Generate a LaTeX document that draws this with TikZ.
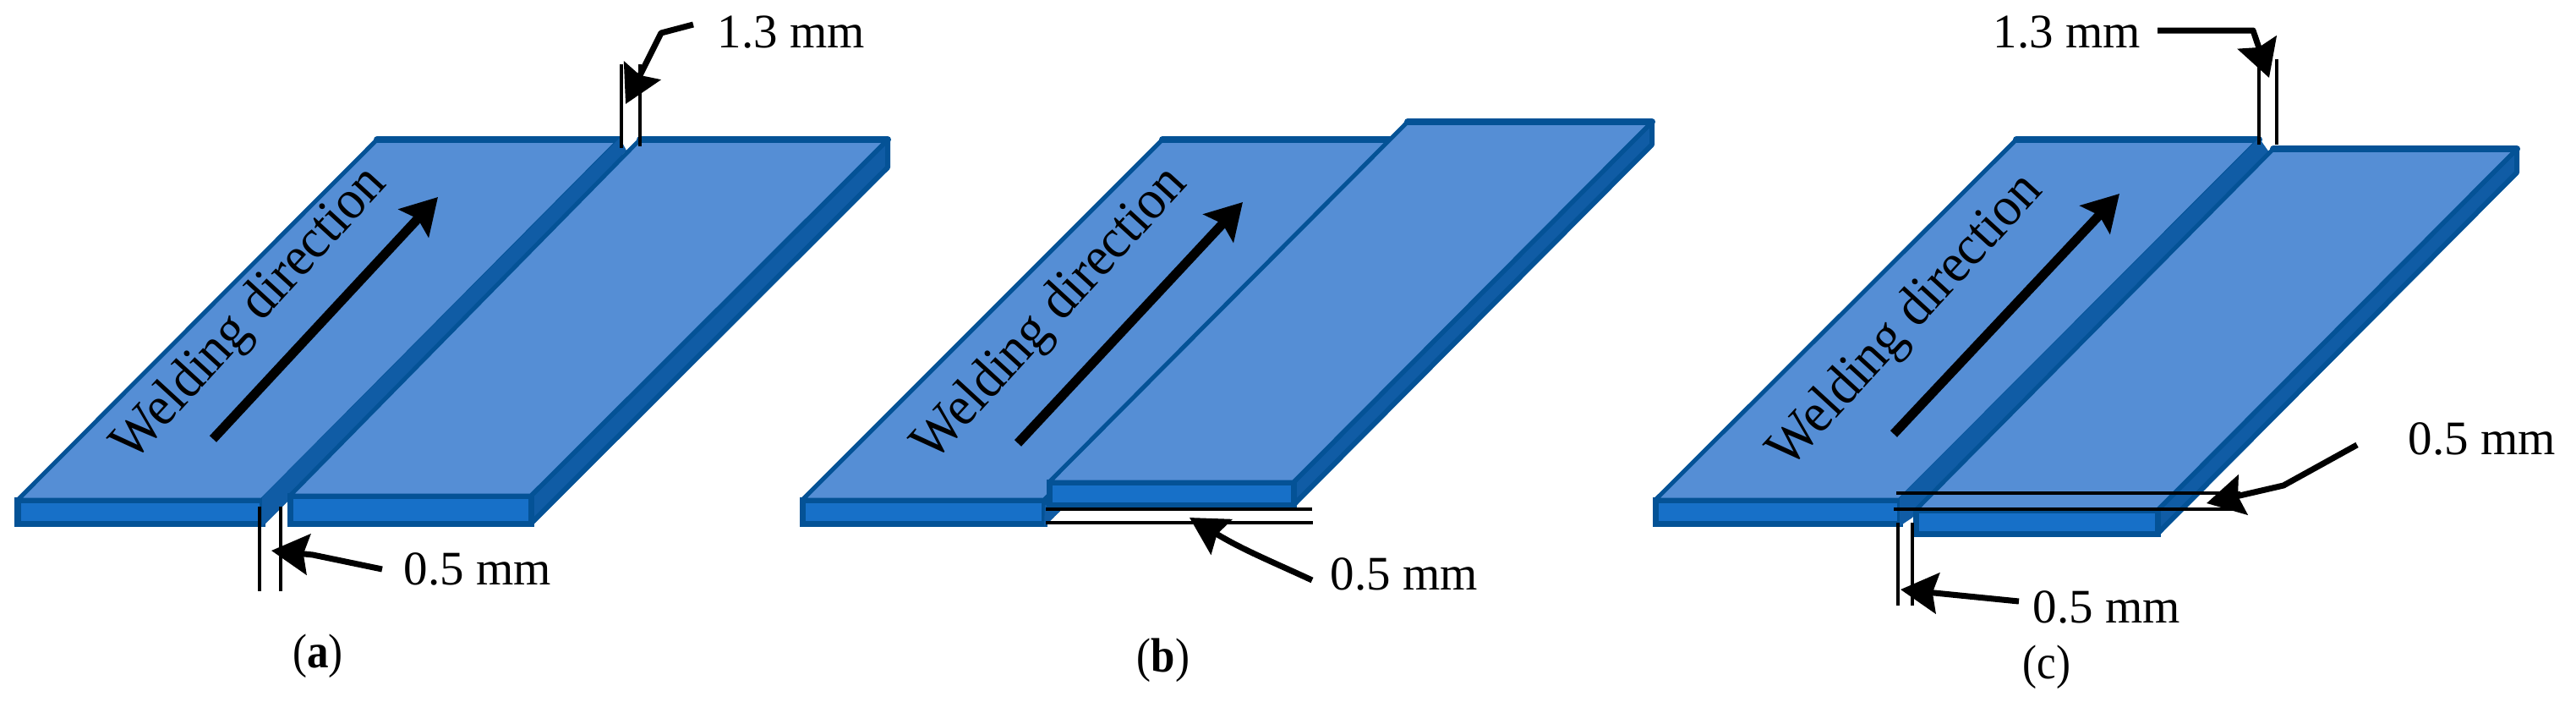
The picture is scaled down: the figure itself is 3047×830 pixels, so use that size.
\documentclass[tikz,border=0pt]{standalone}
\usepackage{fontspec}
\setmainfont{Liberation Serif}
\usetikzlibrary{arrows.meta,calc}
\definecolor{topblue}{RGB}{85,142,213}
\definecolor{frontblue}{RGB}{23,112,200}
\definecolor{sideblue}{RGB}{16,92,165}
\definecolor{edgeblue}{RGB}{4,82,150}
\tikzset{
  x=0.01cm,y=-0.01cm,
  topf/.style={fill=topblue,draw=edgeblue,line width=0.05cm,line join=bevel},
  topedge/.style={draw=edgeblue,line width=0.08cm,line cap=round},
  frontf/.style={fill=frontblue,draw=edgeblue,line width=0.07cm,line join=miter},
  sidef/.style={fill=sideblue,draw=edgeblue,line width=0.06cm,line join=bevel},
  bandf/.style={fill=sideblue,draw=none},
  dimline/.style={draw=black,line width=0.045cm},
  callout/.style={draw=black,line width=0.07cm,line join=round,
    -{Stealth[length=0.44cm,width=0.48cm,inset=0.06cm]}},
  weldarrow/.style={draw=black,line width=0.11cm,
    -{Stealth[length=0.42cm,width=0.48cm,inset=0.07cm]}},
  dimtext/.style={anchor=base west,inner sep=0pt,font=\fontsize{16.2}{18}\selectfont},
  weldtext/.style={anchor=base west,inner sep=0pt,rotate=47.5,font=\fontsize{17.7}{20}\selectfont},
  captext/.style={anchor=base,inner sep=0pt,font=\fontsize{14.5}{17}\selectfont},
}
\newcommand{\talltext}[2]{\scalebox{1}[#1]{#2}}
\newcommand{\plate}[5]{%
  \path[sidef] #4 -- #3 -- ($#3+(0,#5)$) -- ($#4+(0,#5)$) -- cycle;
  \path[frontf] #1 -- #4 -- ($#4+(0,#5)$) -- ($#1+(0,#5)$) -- cycle;
  \path[topf] #1 -- #2 -- #3 -- #4 -- cycle;
  \draw[topedge] #2 -- #3;
}
\begin{document}
\begin{tikzpicture}
\useasboundingbox (0,0) rectangle (3047,830);
% ---------- panel (a)
\plate{(21,591)}{(446,165)}{(733,165)}{(310,591)}{28}
\path[bandf] (310,622) -- (310,588) -- (733,163) -- (741,178) -- (342,590) -- cycle;
\plate{(343,586)}{(757,165)}{(1050,165)}{(628,586)}{33}
\coordinate (a13t) at (735,76); \coordinate (a13b) at (735,175);
\coordinate (a13u) at (757,76); \coordinate (a13v) at (757,173);
\draw[dimline] (a13t) -- (a13b); \draw[dimline] (a13u) -- (a13v);
\coordinate (a05t) at (307,599); \coordinate (a05b) at (307,699);
\coordinate (a05u) at (332,599); \coordinate (a05v) at (332,699);
\draw[dimline] (a05t) -- (a05b); \draw[dimline] (a05u) -- (a05v);
\node[dimtext] (alab13) at (848,56) {1.3 mm};
\node[dimtext] (alab05) at (477,691) {0.5 mm};
\node[captext] (acap) at (376,789) {\talltext{1.12}{(\textbf{a})}};
\node[weldtext] (aweld) at (157,548) {\talltext{1.06}{Welding direction}};
\coordinate (aw0) at (252,519); \coordinate (aw1) at (518,233);
\draw[weldarrow] (aw0) -- (aw1);
\coordinate (ac1) at (820,29); \coordinate (ac2) at (782,39); \coordinate (ac3) at (740,123);
\draw[callout] (ac1) -- (ac2) -- (ac3);
\coordinate (ad1) at (452,673); \coordinate (ad2) at (370,656); \coordinate (ad3) at (321,651);
\draw[callout] (ad1) -- (ad2) -- (ad3);
% ---------- panel (b)
\plate{(949,591)}{(1375,165)}{(1650,165)}{(1235,591)}{28}
\path[bandf] (1235,622) -- (1262,597) -- (1236,597) -- cycle;
\plate{(1241,570)}{(1665,144)}{(1954,144)}{(1530,570)}{27}
\coordinate (b1a) at (1237,602); \coordinate (b1b) at (1552,602);
\coordinate (b2a) at (1237,618); \coordinate (b2b) at (1553,618);
\draw[dimline] (b1a) -- (b1b); \draw[dimline] (b2a) -- (b2b);
\node[dimtext] (blab05) at (1573,697) {0.5 mm};
\node[captext] (bcap) at (1376,794) {\talltext{1.12}{(\textbf{b})}};
\node[weldtext] (bweld) at (1104,548) {\talltext{1.06}{Welding direction}};
\coordinate (bw0) at (1204,524); \coordinate (bw1) at (1470,239);
\draw[weldarrow] (bw0) -- (bw1);
\coordinate (bd1) at (1552,686); \coordinate (bd3) at (1407,612);
\draw[callout] (bd1) .. controls (1500,662) and (1470,650) .. (bd3);
% ---------- panel (c)
\plate{(1958,591)}{(2385,165)}{(2672,165)}{(2247,591)}{28}
\path[bandf] (2247,622) -- (2247,588) -- (2672,163) -- (2684,180) -- (2272,600) -- (2262,612) -- cycle;
\plate{(2266,603)}{(2689,176)}{(2977,176)}{(2552,603)}{28}
\coordinate (c1a) at (2672,70); \coordinate (c1b) at (2672,171);
\coordinate (c2a) at (2693,70); \coordinate (c2b) at (2693,171);
\draw[dimline] (c1a) -- (c1b); \draw[dimline] (c2a) -- (c2b);
\coordinate (c3a) at (2245,618); \coordinate (c3b) at (2245,716);
\coordinate (c4a) at (2262,618); \coordinate (c4b) at (2262,716);
\draw[dimline] (c3a) -- (c3b); \draw[dimline] (c4a) -- (c4b);
\coordinate (c5a) at (2243,583); \coordinate (c5b) at (2650,583);
\coordinate (c6a) at (2240,602); \coordinate (c6b) at (2650,602);
\draw[dimline] (c5a) -- (c5b); \draw[dimline] (c6a) -- (c6b);
\node[dimtext] (clab13) at (2357,56) {1.3 mm};
\node[dimtext] (clab05r) at (2848,537) {0.5 mm};
\node[dimtext] (clab05b) at (2404,736) {0.5 mm};
\node[captext] (ccap) at (2421,802) {\talltext{1.12}{(c)}};
\node[weldtext] (cweld) at (2116,556) {\talltext{1.06}{Welding direction}};
\coordinate (cw0) at (2240,513); \coordinate (cw1) at (2507,229);
\draw[weldarrow] (cw0) -- (cw1);
\coordinate (cc1) at (2552,36); \coordinate (cc2) at (2665,36); \coordinate (cc3) at (2684,92);
\draw[callout] (cc1) -- (cc2) -- (cc3);
\coordinate (cd1) at (2788,526); \coordinate (cd2) at (2701,574); \coordinate (cd3) at (2610,595);
\draw[callout] (cd1) -- (cd2) -- (cd3);
\coordinate (ce1) at (2388,711); \coordinate (ce3) at (2248,697);
\draw[callout] (ce1) -- (ce3);
\end{tikzpicture}
\end{document}
